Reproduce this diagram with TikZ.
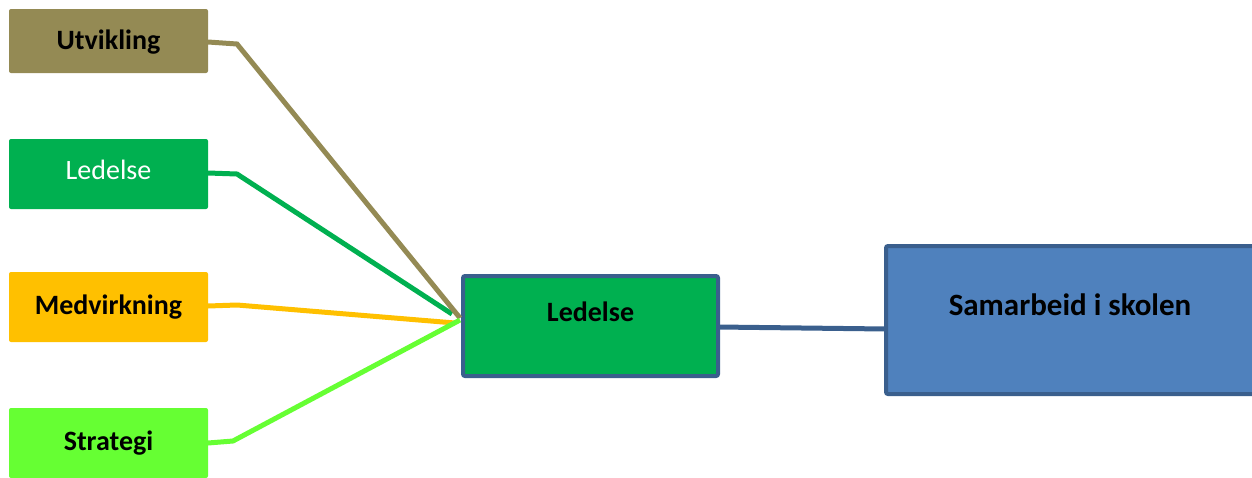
\documentclass[tikz,border=0pt]{standalone}
\usepackage{fontspec}
\setmainfont{Carlito}
\begin{document}
\begin{tikzpicture}[x=1pt,y=-1pt,
  sidebox/.style={rectangle, rounded corners=2pt, minimum width=199pt, anchor=north west, inner sep=0pt, outer sep=0pt, font=\fontsize{28}{34}\selectfont\bfseries},
  mainbox/.style={rectangle, rounded corners=2pt, draw=borderblue, line width=4pt, anchor=north west, inner sep=0pt, outer sep=0pt},
  link/.style={line width=5pt, line join=miter}]
\definecolor{olive}{HTML}{948A54}
\definecolor{leadgreen}{HTML}{00B050}
\definecolor{amber}{HTML}{FFC000}
\definecolor{lime}{HTML}{66FF33}
\definecolor{boxblue}{HTML}{4F81BD}
\definecolor{borderblue}{HTML}{3A5F8D}
\useasboundingbox (0,0) rectangle (1252,477);
\clip (0,0) rectangle (1252,477);

% left column
\node[sidebox, fill=olive, minimum height=64pt, text depth=2pt] (u) at (9,9) {Utvikling};
\node[sidebox, fill=leadgreen, minimum height=70pt, text=white, text depth=8pt, font=\fontsize{28}{34}\selectfont] (l) at (9,139) {Ledelse};
\node[sidebox, fill=amber, minimum height=70pt] (m) at (9,272) {Medvirkning};
\node[sidebox, fill=lime, minimum height=70pt] (st) at (9,408) {Strategi};

% central and right boxes
\node[mainbox, fill=leadgreen, minimum width=255pt, minimum height=100pt,
  label={[font=\fontsize{28}{34}\selectfont\bfseries, yshift=14pt]center:Ledelse}] (c) at (463,276) {};
\node[mainbox, fill=boxblue, minimum width=400pt, minimum height=148pt,
  label={[font=\fontsize{31}{37}\selectfont\bfseries, yshift=15pt, xshift=-16pt]center:Samarbeid i skolen}] (s) at (886,246) {};

% bend and hub points
\coordinate (lb) at (237,174);  \coordinate (lh) at (452,314);
\coordinate (mb) at (237,305);  \coordinate (mh) at (455,323);
\coordinate (ub) at (237,44);   \coordinate (uh) at (460,318);
\coordinate (sb) at (233,441);  \coordinate (sh) at (460,320);

% connectors
\draw[link, leadgreen] ([yshift=1pt]l.east) -- (lb) -- (lh);
\draw[link, amber] ([yshift=1pt]m.east) -- (mb) -- (mh);
\draw[link, olive] ([yshift=-1pt]u.east) -- (ub) -- (uh);
\draw[link, lime] (st.east) -- (sb) -- (sh);
\draw[link, borderblue] ([yshift=-1pt]c.east) -- ([yshift=-9pt]s.west);
\end{tikzpicture}
\end{document}
